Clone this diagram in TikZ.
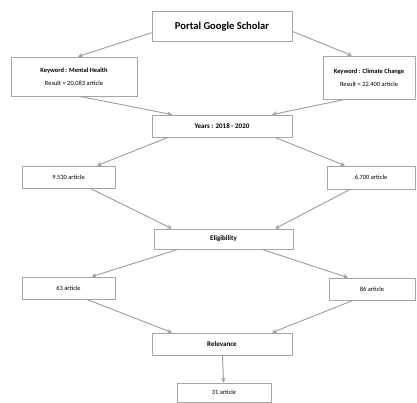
\documentclass[tikz,border=0pt]{standalone}
\usepackage{fontspec}
\setmainfont{Carlito}
\usetikzlibrary{arrows.meta}

\begin{document}
\begin{tikzpicture}[x=0.03cm,y=-0.03cm,>=stealth,
box/.style={draw=gray!70,line width=0.7pt,inner sep=0pt,align=center,font=\fontsize{5.5}{7}\selectfont},
hd/.style={font=\fontsize{6}{7}\selectfont\bfseries},
link/.style={->,draw=gray!75,line width=0.8pt}]
\useasboundingbox (0,0) rectangle (417,403);
\node[box,minimum width=4.2cm,minimum height=0.9cm,font=\fontsize{9}{10}\selectfont\bfseries](portal) at (222,26.5){Portal Google Scholar};
\node[box,minimum width=3.78cm,minimum height=1.17cm](mh) at (74,76.5){{\bfseries Keyword : Mental Health}\\[4pt]Result = 20.083 article};
\node[box,minimum width=2.76cm,minimum height=1.29cm](cc) at (369,77.5){{\bfseries Keyword : Climate Change}\\[4pt]Result = 22.400 article};
\node[box,hd,minimum width=4.2cm,minimum height=0.66cm](years) at (222,126){Years : 2018 - 2020};
\node[box,minimum width=2.79cm,minimum height=0.66cm](a9) at (68.5,177){9.530 article};
\node[box,minimum width=2.64cm,minimum height=0.69cm](a6) at (371,177.5){6.700 article};
\node[box,hd,minimum width=4.17cm,minimum height=0.6cm](elig) at (223.5,239){Eligibility};
\node[box,minimum width=2.79cm,minimum height=0.66cm](a63) at (68.5,288){63 article};
\node[box,minimum width=2.58cm,minimum height=0.66cm](a86) at (372,289){86 article};
\node[box,hd,minimum width=4.2cm,minimum height=0.66cm](rel) at (222,344){Relevance};
\node[box,minimum width=2.82cm,minimum height=0.57cm](a31) at (224,392.5){31 article};
% arrows
\draw[link](portal.185)--([xshift=0.12cm]mh.north);
\draw[link](portal.356)--([xshift=-0.51cm]cc.north);
\draw[link]([xshift=0.18cm]mh.south)--([xshift=-1.5cm]years.north);
\draw[link]([xshift=-0.72cm]cc.south)--([xshift=1.5cm]years.north);
\draw[link]([xshift=-1.62cm]years.south)--([xshift=0.85cm]a9.north);
\draw[link]([xshift=1.59cm]years.south)--([xshift=-0.78cm]a6.north);
\draw[link]([xshift=0.65cm]a9.south)--([xshift=-1.55cm]elig.north);
\draw[link]([xshift=-0.63cm]a6.south)--([xshift=1.55cm]elig.north);
\draw[link]([xshift=-1.37cm]elig.south)--([xshift=0.7cm]a63.north);
\draw[link]([xshift=1.16cm]elig.south)--([xshift=-0.72cm]a86.north);
\draw[link]([xshift=0.55cm]a63.south)--([xshift=-1.5cm]rel.north);
\draw[link]([xshift=-0.57cm]a86.south)--([xshift=1.5cm]rel.north);
\draw[link](rel)--(a31);
\end{tikzpicture}
\end{document}
